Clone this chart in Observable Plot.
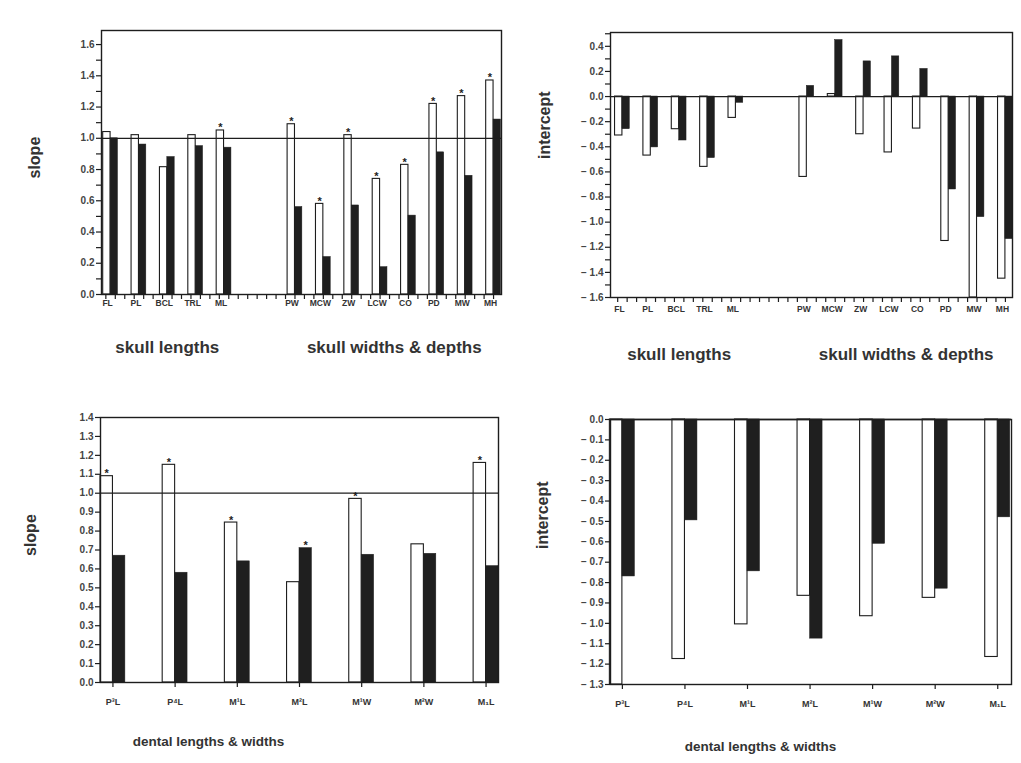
<!DOCTYPE html>
<html>
<head>
<meta charset="utf-8">
<script src="https://cdn.jsdelivr.net/npm/d3@7"></script>
<script src="https://cdn.jsdelivr.net/npm/@observablehq/plot@0.6"></script>
<style>
  body { margin: 0; background: #ffffff; font-family: "Liberation Sans", Arial, sans-serif; }
  #wrap { position: relative; width: 1021px; height: 763px; overflow: hidden; }
  .panel { position: absolute; }
</style>
</head>
<body>
<div id="wrap"></div>
<script>
// ---------- data ----------
const skullCats   = ["FL", "PL", "BCL", "TRL", "ML", "PW", "MCW", "ZW", "LCW", "CO", "PD", "MW", "MH"];
const skullGroups = ["skull lengths", "skull lengths", "skull lengths", "skull lengths", "skull lengths",
                     "skull widths & depths", "skull widths & depths", "skull widths & depths", "skull widths & depths",
                     "skull widths & depths", "skull widths & depths", "skull widths & depths", "skull widths & depths"];
// white bars (A) and black bars (B)
const skullSlopeA = [1.04, 1.02, 0.815, 1.02, 1.05, 1.09, 0.58, 1.02, 0.74, 0.83, 1.22, 1.27, 1.37];
const skullSlopeB = [1.00, 0.96, 0.88, 0.95, 0.94, 0.56, 0.24, 0.57, 0.175, 0.505, 0.91, 0.76, 1.12];
const skullSlopeStar = ["", "", "", "", "A", "A", "A", "A", "A", "A", "A", "A", "A"];
const skullInterA = [-0.31, -0.47, -0.26, -0.56, -0.17, -0.64, 0.02, -0.30, -0.445, -0.255, -1.15, -1.60, -1.45];
const skullInterB = [-0.26, -0.405, -0.35, -0.49, -0.05, 0.085, 0.45, 0.28, 0.32, 0.22, -0.74, -0.96, -1.135];

const dentalCats = ["P³L", "P⁴L", "M¹L", "M²L", "M¹W", "M²W", "M₁L"];
const dentalSlopeA = [1.09, 1.15, 0.845, 0.53, 0.97, 0.73, 1.16];
const dentalSlopeB = [0.67, 0.58, 0.64, 0.71, 0.675, 0.68, 0.615];
const dentalSlopeStar = ["A", "A", "A", "B", "A", "", "A"];
const dentalInterA = [-1.30, -1.175, -1.005, -0.865, -0.965, -0.875, -1.165];
const dentalInterB = [-0.77, -0.495, -0.745, -1.075, -0.61, -0.83, -0.48];

const yTitleSlope = "slope";
const yTitleIntercept = "intercept";
const dentalTitle = "dental lengths & widths";

// ---------- helpers ----------
const INK = "#1d1d1d";
const TXT = "#333";
const FONT = "'Liberation Sans', Arial, Helvetica, sans-serif";

// skull positions: index along axis, with a gap of 1.5 slots between the two groups
const skullPos = skullCats.map((c, i) => i + (skullGroups[i] === skullGroups[0] ? 0 : 1.5));
const dentalPos = dentalCats.map((c, i) => i);

const fmt = d => (Math.abs(d) < 1e-9 ? "0.0" : d < 0 ? "\u2212 " + Math.abs(d).toFixed(1) : d.toFixed(1));

function rowsOf(cats, pos, a, b, star) {
  return cats.map((c, i) => ({cat: c, pos: pos[i], a: a[i], b: b[i], star: star ? star[i] : ""}));
}

function panel(cfg) {
  const rows = cfg.rows;
  const w = cfg.barW;
  const marks = [
    Plot.rect(rows, {x1: d => d.pos - w, x2: d => d.pos, y1: d => 0, y2: d => d.a,
                     fill: "white", stroke: INK, strokeWidth: 1.1}),
    Plot.rect(rows, {x1: d => d.pos, x2: d => d.pos + w, y1: d => 0, y2: d => d.b,
                     fill: "#1f1f1f", stroke: "#1f1f1f", strokeWidth: 0.5}),
    Plot.ruleY([cfg.ref], {stroke: INK, strokeWidth: 1.3}),
    Plot.frame({stroke: INK, strokeWidth: 1.4}),
    Plot.axisY(cfg.yMajor, {tickSize: 5, tickPadding: 2, tickFormat: fmt, label: null,
                            fontSize: 10, fontWeight: "bold", color: INK, fill: "#444", strokeWidth: 1.2}),
    Plot.axisY(cfg.yMinor, {tickSize: 5, tickFormat: () => "", label: null, color: INK, strokeWidth: 1.2}),
    Plot.axisX(cfg.xTicks, {tickSize: 5, tickFormat: () => "", label: null, color: INK, strokeWidth: 1.2}),
    Plot.text(rows, {x: "pos", text: "cat", frameAnchor: "bottom", dy: cfg.catDy, dx: cfg.catDx || 0,
                     fontSize: cfg.catFont, fill: TXT, fontWeight: "bold"}),
    Plot.text(rows.filter(d => d.star === "A"), {x: d => d.pos - w / 2, y: "a", text: () => "*",
                     lineAnchor: "bottom", dy: cfg.starDy, fontSize: 11, fill: INK, fontWeight: "bold"}),
    Plot.text(rows.filter(d => d.star === "B"), {x: d => d.pos + w / 2, y: "b", text: () => "*",
                     lineAnchor: "bottom", dy: cfg.starDy, fontSize: 11, fill: INK, fontWeight: "bold"}),
    Plot.text([cfg.yTitle], {frameAnchor: "left", rotate: -90, dx: cfg.yTitleDx, dy: cfg.yTitleDy,
                     fontSize: 16, fontWeight: "bold", fill: TXT})
  ];
  if (cfg.groupLabels) {
    marks.push(Plot.text(cfg.groupLabels, {x: "x", text: "label", frameAnchor: "bottom", dy: cfg.groupDy,
                     fontSize: cfg.groupFont, fontWeight: "bold", fill: TXT}));
  }
  if (cfg.bottomTitle) {
    marks.push(Plot.text([cfg.bottomTitle], {frameAnchor: "bottom-left", dx: cfg.bottomDx, dy: cfg.groupDy,
                     textAnchor: "middle", fontSize: cfg.groupFont, fontWeight: "bold", fill: TXT}));
  }
  const svg = Plot.plot({
    width: cfg.width, height: cfg.height,
    marginTop: cfg.m[0], marginRight: cfg.m[1], marginBottom: cfg.m[2], marginLeft: cfg.m[3],
    x: {type: "linear", domain: cfg.xDomain},
    y: {type: "linear", domain: cfg.yDomain},
    style: {fontFamily: FONT, fontSize: "10px", background: "transparent", overflow: "visible"},
    marks
  });
  svg.classList.add("panel");
  svg.style.left = cfg.left + "px";
  svg.style.top = cfg.top + "px";
  document.getElementById("wrap").appendChild(svg);
}

function groupCenters(pos) {
  const names = Array.from(new Set(skullGroups));
  return names.map(n => ({label: n, x: d3.mean(pos.filter((p, i) => skullGroups[i] === n))}));
}

const skullXTicks = d3.range(-1 / 6, 13.8, 1 / 3);
const dentalXTicks = dentalPos;

// ---------- top-left: skull slope ----------
panel({
  left: 0, top: 0, width: 510, height: 380, m: [30, 9, 86, 101],
  xDomain: [-0.32, 13.78], yDomain: [0, 1.69],
  rows: rowsOf(skullCats, skullPos, skullSlopeA, skullSlopeB, skullSlopeStar),
  barW: 0.26, ref: 1,
  yMajor: d3.range(0, 1.61, 0.2), yMinor: d3.range(0.1, 1.7, 0.2),
  xTicks: skullXTicks, catDy: 11, catDx: -3, catFont: 8.5, starDy: 1,
  yTitle: yTitleSlope, yTitleDx: -67, yTitleDy: 16,
  groupLabels: groupCenters(skullPos), groupDy: 58, groupFont: 17
});

// ---------- top-right: skull intercept ----------
panel({
  left: 510, top: 0, width: 511, height: 380, m: [32, 9, 83, 100],
  xDomain: [-0.42, 13.75], yDomain: [-1.6, 0.51],
  rows: rowsOf(skullCats, skullPos, skullInterA, skullInterB, null),
  barW: 0.26, ref: 0,
  yMajor: d3.range(-1.6, 0.41, 0.2), yMinor: d3.range(-1.5, 0.51, 0.2),
  xTicks: skullXTicks, catDy: 14, catDx: -3, catFont: 8.5, starDy: 1,
  yTitle: yTitleIntercept, yTitleDx: -66, yTitleDy: -6,
  groupLabels: groupCenters(skullPos), groupDy: 62, groupFont: 17
});

// ---------- bottom-left: dental slope ----------
panel({
  left: 0, top: 380, width: 510, height: 383, m: [37, 12, 81, 100],
  xDomain: [-0.2, 6.2], yDomain: [0, 1.4],
  rows: rowsOf(dentalCats, dentalPos, dentalSlopeA, dentalSlopeB, dentalSlopeStar),
  barW: 0.2, ref: 1,
  yMajor: d3.range(0, 1.41, 0.1), yMinor: [],
  xTicks: dentalXTicks, catDy: 22, catFont: 9, starDy: 1,
  yTitle: yTitleSlope, yTitleDx: -70, yTitleDy: 6,
  bottomTitle: dentalTitle, bottomDx: 108, groupDy: 63, groupFont: 13.5
});

// ---------- bottom-right: dental intercept ----------
panel({
  left: 510, top: 380, width: 511, height: 383, m: [39, 10, 79, 100],
  xDomain: [-0.19, 6.22], yDomain: [-1.3, 0],
  rows: rowsOf(dentalCats, dentalPos, dentalInterA, dentalInterB, null),
  barW: 0.2, ref: 0,
  yMajor: d3.range(-1.3, 0.01, 0.1), yMinor: [],
  xTicks: dentalXTicks, catDy: 22, catFont: 9, starDy: 1,
  yTitle: yTitleIntercept, yTitleDx: -68, yTitleDy: -3,
  bottomTitle: dentalTitle, bottomDx: 150, groupDy: 66, groupFont: 13.5
});
</script>
</body>
</html>
